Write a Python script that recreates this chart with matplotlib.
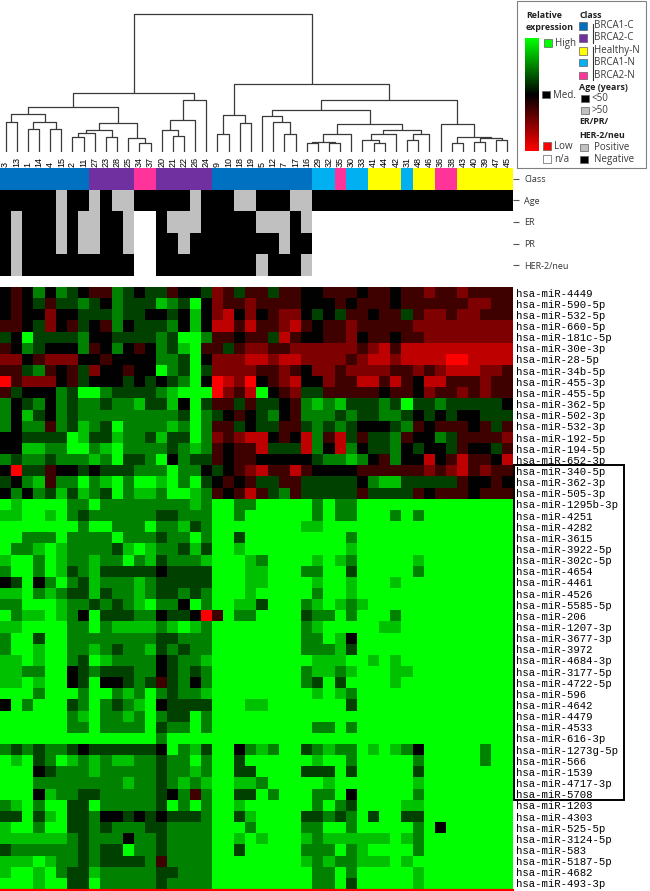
import numpy as np
import matplotlib
matplotlib.use('Agg')
import matplotlib.pyplot as plt
from matplotlib.colors import LinearSegmentedColormap
from matplotlib.patches import Rectangle

# sample ids in dendrogram order
samples = ['3', '13', '1', '14', '4', '15', '2', '11', '27', '23', '28', '25', '34', '37',
           '20', '21', '22', '26', '24', '9', '10', '18', '19', '5', '12', '7', '17', '16',
           '29', '32', '35', '30', '33', '41', '44', '42', '31', '48', '46', '36', '38',
           '43', '40', '39', '47', '45']

# a=BRCA1-C b=BRCA2-C h=Healthy-N n=BRCA1-N p=BRCA2-N
class_code = "aaaaaaaabbbbppbbbbbaaaaaaaaannpnnhhhnhhpphhhhh"
# Y = <50, O = >50
age_code = "YYYYYOYYOYOOYYYYYOYYYOOYYYOOYYYYYYYYYYYYYYYYYY"
# P positive, N negative, - n/a
er_code = "NPNNNPNPPNNP--NPPPNNNNNPPPNP------------------"
pr_code = "NPNNNPNPPNNP--NNPNNNNNNNNPNN------------------"
her2_code = "NPNNNNNNNNNN--NNNNNNNNNPNNNP------------------"

mirnas = ['hsa-miR-4449', 'hsa-miR-590-5p', 'hsa-miR-532-5p', 'hsa-miR-660-5p',
          'hsa-miR-181c-5p', 'hsa-miR-30e-3p', 'hsa-miR-28-5p', 'hsa-miR-34b-5p',
          'hsa-miR-455-3p', 'hsa-miR-455-5p', 'hsa-miR-362-5p', 'hsa-miR-502-3p',
          'hsa-miR-532-3p', 'hsa-miR-192-5p', 'hsa-miR-194-5p', 'hsa-miR-652-3p',
          'hsa-miR-340-5p', 'hsa-miR-362-3p', 'hsa-miR-505-3p', 'hsa-miR-1295b-3p',
          'hsa-miR-4251', 'hsa-miR-4282', 'hsa-miR-3615', 'hsa-miR-3922-5p',
          'hsa-miR-302c-5p', 'hsa-miR-4654', 'hsa-miR-4461', 'hsa-miR-4526',
          'hsa-miR-5585-5p', 'hsa-miR-206', 'hsa-miR-1207-3p', 'hsa-miR-3677-3p',
          'hsa-miR-3972', 'hsa-miR-4684-3p', 'hsa-miR-3177-5p', 'hsa-miR-4722-5p',
          'hsa-miR-596', 'hsa-miR-4642', 'hsa-miR-4479', 'hsa-miR-4533',
          'hsa-miR-616-3p', 'hsa-miR-1273g-5p', 'hsa-miR-566', 'hsa-miR-1539',
          'hsa-miR-4717-3p', 'hsa-miR-5708', 'hsa-miR-1203', 'hsa-miR-4303',
          'hsa-miR-525-5p', 'hsa-miR-3124-5p', 'hsa-miR-583', 'hsa-miR-5187-5p',
          'hsa-miR-4682', 'hsa-miR-493-3p']

# relative expression, 0 = strong red (low) .. 4 = black (median) .. 8 = strong green (high)
expr_rows = [
    "43464654 33654553 4452353 35334433 34334332 3323333",
    "43453556 54655576 5842332 33334443 43334333 3332233",
    "43442445 55655445 4742142 43224545 33433532 2322333",
    "33452435 43645556 4741131 33213433 23333322 2222222",
    "54855556 44555565 8863343 35134433 24334332 2222222",
    "34654446 34643465 7833532 23322222 23213111 1111111",
    "22432224 43444466 5842221 12112222 32112111 1001111",
    "33563435 24434486 5852222 33234223 22223323 2111223",
    "03222435 44454545 6840120 43214423 31131341 1333233",
    "35444658 86555567 8880231 84325533 33343342 3323233",
    "64564656 65667557 4853353 55436767 55565855 6555554",
    "64754656 66666666 5865434 56436665 65566545 4544555",
    "64663657 65866667 6863354 55335656 54445634 3334353",
    "44555587 55766575 5862321 14341631 53556344 6533332",
    "44776688 67866665 6763433 15551641 64556454 4534453",
    "65665666 76855684 6553433 44444566 76436441 4313341",
    "40553445 45556668 6645432 13313444 43333332 3213233",
    "54673668 67868878 6854343 55335555 54677555 5534434",
    "46465757 65867768 8763431 35635555 53555534 3334333",
    "87888 86686 66666 66768 86688 88868 66888 88888 88888 8",
    "77887 86566 66665 56668 86888 88868 66888 68688 88888 8",
    "88888 88688 66686 67568 88888 88778 88888 88888 88888 8",
    "88666 86666 86665 66868 85888 88888 86888 88888 88888 8",
    "86678 76666 57876 65758 87888 88888 87888 88888 88888 8",
    "78868 76676 68675 66678 88768 88878 76888 88788 88888 8",
    "68868 75675 55554 55558 88778 88668 85888 88688 88888 8",
    "45846 86576 66765 55558 88778 88878 87888 78888 88888 8",
    "77867 65575 66765 56568 88788 88868 87888 88888 88888 8",
    "66888 76656 56786 64868 87758 88678 76788 88888 88888 8",
    "86778 76485 55664 55403 86688 88566 86888 68888 88888 8",
    "77888 86686 77776 78768 88888 88678 88887 78888 88888 8",
    "68858 86666 66665 56668 88888 88668 74888 88888 88888 8",
    "68878 86676 56675 65668 88888 88666 75888 88888 88888 8",
    "77878 86587 66664 56678 88888 88877 78878 78888 88888 8",
    "77668 84565 55664 56568 88888 88677 67888 77888 88888 8",
    "77878 84584 45653 56468 88888 88658 58888 78888 88888 8",
    "88868 88688 67686 56678 88888 88878 76888 88888 88888 8",
    "48688 85686 56784 55558 88778 88888 85888 88888 88888 8",
    "88888 86786 67686 55868 88888 88888 88888 88888 88888 8",
    "88888 86686 66685 66868 88888 88866 86888 88888 88888 8",
    "88888 88888 88886 88888 88888 88888 88888 88888 88888 8",
    "65656 65455 55554 86758 84676 88567 66878 76488 88868 8",
    "87856 87676 77665 66868 85888 88878 86888 88688 88868 8",
    "88845 66676 66665 66768 85588 88555 85888 88588 88888 8",
    "88866 66666 67665 67678 87768 88887 88888 88788 88888 8",
    "88847 66556 66665 46368 85586 88866 84888 88688 88888 8",
    "67868 85586 66665 86868 87888 88868 65888 87788 88888 8",
    "55857 85564 45454 55568 85788 88556 56858 85588 88888 8",
    "78868 85565 66655 66668 88688 88668 86888 88684 88888 8",
    "77777 76566 64665 66668 87878 88767 77777 87688 88888 8",
    "56666 66565 58665 66668 85888 88666 86788 88688 88888 8",
    "77787 66565 55563 66668 88888 88767 66777 87888 88888 8",
    "78878 65576 66665 56668 88888 88866 86888 88788 88888 8",
    "88878 85586 66665 66668 88888 88866 85888 88788 88888 8",
]

# dendrogram nodes: (left, right, merge height); leaves are column indices
den_a = ((0, 1, 0.192), ((2, 3, 0.139), (4, 5, 0.139), 0.197), 0.251)
den_b = (((((6, 7, 0.085), 8, 0.11), (9, 10, 0.085), 0.134)),
         (11, (12, 13, 0.035), 0.072), 0.184)
den_c = (((14, (15, 16, 0.09), 0.134), 17, 0.209), 18, 0.358)
den_left = ((den_a, den_b, 0.308), den_c, 0.413)
den_d = ((19, 20, 0.102), (21, 22, 0.184), 0.246)
den_e = (23, (24, (25, 26, 0.102), 0.196), 0.239)
den_f = (((27, 28, 0.035), (29, 30, 0.035), 0.047), 31, 0.102)
den_g = ((32, (33, 34, 0.04), 0.06), 35, 0.102)
den_h = ((36, 37, 0.06), 38, 0.104)
den_i = (39, ((40, 41, 0.04), ((42, 43, 0.047), (44, 45, 0.06), 0.077), 0.085), 0.177)
den_right = (den_d, ((den_e, (den_f, (den_g, den_h, 0.134), 0.177), 0.284),
                     den_i, 0.358), 0.475)
tree = (den_left, den_right, 1.0)

class_colors = {'a': '#0070c0', 'b': '#7030a0', 'h': '#ffff00', 'n': '#00b0f0', 'p': '#ff3399'}
class_names = {'a': 'BRCA1-C', 'b': 'BRCA2-C', 'h': 'Healthy-N', 'n': 'BRCA1-N', 'p': 'BRCA2-N'}
status_colors = {'Y': '#000000', 'O': '#c0c0c0', 'P': '#c0c0c0', 'N': '#000000', '-': '#ffffff'}

values = np.array([[int(c) - 4 for c in r.replace(' ', '')] for r in expr_rows])
n_rows, n_cols = values.shape

W, H = 650, 891
fig = plt.figure(figsize=(W / 100, H / 100), dpi=100)


def px_axes(x0, y0, x1, y1):
    return fig.add_axes([x0 / W, 1 - y1 / H, (x1 - x0) / W, (y1 - y0) / H])


# ---- dendrogram
ax_d = px_axes(0, 0, 513, 152)
line_col = '#3a3a3a'


def draw(node):
    if isinstance(node, int):
        return node, -0.03
    left, right, h = node
    xl, hl = draw(left)
    xr, hr = draw(right)
    ax_d.plot([xl, xl, xr, xr], [hl, h, h, hr], color=line_col, lw=0.9,
              solid_capstyle='butt')
    return (xl + xr) / 2, h


draw(tree)
ax_d.set_xlim(-0.5, n_cols - 0.5)
ax_d.set_ylim(-0.03, 1.104)
ax_d.axis('off')

# ---- annotation bars
ax_a = px_axes(0, 168, 513, 276)
ann = [[class_colors[c] for c in class_code],
       [status_colors[c] for c in age_code],
       [status_colors[c] for c in er_code],
       [status_colors[c] for c in pr_code],
       [status_colors[c] for c in her2_code]]
ann_rgb = np.array([[matplotlib.colors.to_rgb(c) for c in row] for row in ann])
ax_a.imshow(ann_rgb, aspect='auto', interpolation='nearest')
for s in ax_a.spines.values():
    s.set_visible(False)
ax_a.yaxis.tick_right()
ax_a.set_yticks(range(5))
ax_a.set_yticklabels(['Class', 'Age', 'ER', 'PR', 'HER-2/neu'],
                     fontsize=6.5, family='Open Sans', color='#333333')
ax_a.tick_params(axis='y', length=4, width=0.8, color='#555555', pad=4)
ax_a.xaxis.tick_top()
ax_a.set_xticks(range(n_cols))
ax_a.set_xticklabels(samples, rotation=90, fontsize=6.5, family='Liberation Sans')
ax_a.tick_params(axis='x', length=0, pad=1)

# ---- heatmap
cmap = LinearSegmentedColormap.from_list('rg', ['#ff0000', '#000000', '#00ff00'])
ax_h = px_axes(0, 287, 513, 889)
ax_h.imshow(values, cmap=cmap, vmin=-4, vmax=4, aspect='auto', interpolation='nearest')
for s in ax_h.spines.values():
    s.set_visible(False)
ax_h.set_xticks([])
ax_h.yaxis.tick_right()
ax_h.set_yticks(range(n_rows))
ax_h.set_yticklabels(mirnas, fontsize=7.7, family='Liberation Mono')
ax_h.tick_params(axis='y', length=0, pad=2)
ax_h.axhline(n_rows - 0.5 + 0.09, color='#ff0000', lw=1.6, clip_on=False)
# highlighted block of miRNAs
ax_h.add_patch(Rectangle((n_cols - 0.45, 15.5), 9.9, 30, fill=False, lw=1.4,
                         edgecolor='black', clip_on=False))
ax_h.set_xlim(-0.5, n_cols - 0.5)
ax_h.set_ylim(n_rows - 0.5, -0.5)

# ---- legend
ax_l = fig.add_axes([0, 0, 1, 1], facecolor='none')
ax_l.set_xlim(0, W)
ax_l.set_ylim(H, 0)
ax_l.axis('off')
ax_l.add_patch(Rectangle((517, 1), 129, 167, fill=False, edgecolor='#808080', lw=0.8))
tfont = dict(family='Open Sans', fontsize=7, color='#3a3a3a', va='center')
hfont = dict(family='Open Sans', fontsize=6.4, color='#222222', va='center', weight='bold')
ax_l.text(526, 15, 'Relative', **hfont)
ax_l.text(526, 27, 'expression', **hfont)


def square(x, y, color):
    ax_l.add_patch(Rectangle((x, y - 3.7), 7.5, 7.5, facecolor=color,
                             edgecolor='#606060', lw=0.5))


for y, col, lab, x in [(43, '#00ff00', 'High', 544), (94.5, '#000000', 'Med.', 542),
                       (146, '#ff0000', 'Low', 543), (159, '#ffffff', 'n/a', 543)]:
    square(x, y, col)
    ax_l.text(x + 11, y + 0.5, lab, **tfont)

ax_l.text(579, 15, 'Class', **hfont)
for y, code in zip([26, 38, 51, 62.5, 75.5], ['a', 'b', 'h', 'n', 'p']):
    square(579, y, class_colors[code])
    ax_l.text(594, y, class_names[code], **tfont)
ax_l.plot([592.5, 592.5], [24, 43], color='#333333', lw=0.8)
ax_l.plot([592.5, 592.5], [47, 80], color='#333333', lw=0.8)

ax_l.text(579, 87, 'Age (years)', **hfont)
square(581, 98.5, '#000000')
ax_l.text(591, 98.5, '<50', **tfont)
square(581, 110.5, '#c0c0c0')
ax_l.text(591, 110.5, '>50', **tfont)
ax_l.text(579, 122, 'ER/PR/', **hfont)
ax_l.text(579, 135, 'HER-2/neu', **hfont)
square(580, 147.5, '#c0c0c0')
ax_l.text(594, 148, 'Positive', **tfont)
square(580, 159.5, '#000000')
ax_l.text(594, 159.5, 'Negative', **tfont)

ax_g = px_axes(525, 38, 539, 151)
grad = np.linspace(4, -4, 200).reshape(-1, 1)
ax_g.imshow(grad, cmap=cmap, vmin=-4, vmax=4, aspect='auto')
ax_g.axis('off')

fig.savefig('out.png', dpi=100)
